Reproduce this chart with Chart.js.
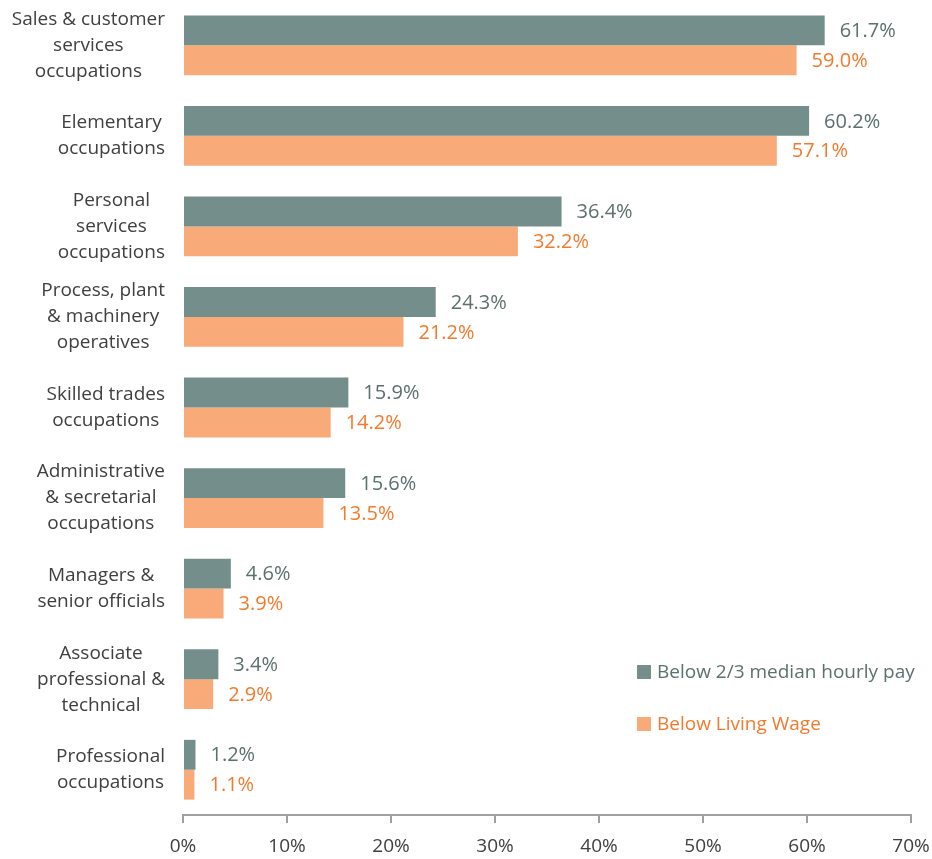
<!DOCTYPE html>
<html>
<head>
<meta charset="utf-8">
<script src="https://cdn.jsdelivr.net/npm/chart.js@4"></script>
<style>
  html, body { margin: 0; padding: 0; background: #fff; }
  #wrap { width: 932px; height: 859px; }
</style>
</head>
<body>
<div id="wrap"><canvas id="chart" width="932" height="859"></canvas></div>
<script>
const categories = [
  ['Sales & customer', 'services', 'occupations'],
  ['Elementary', 'occupations'],
  ['Personal', 'services', 'occupations'],
  ['Process, plant', '& machinery', 'operatives'],
  ['Skilled trades', 'occupations'],
  ['Administrative', '& secretarial', 'occupations'],
  ['Managers &', 'senior officials'],
  ['Associate', 'professional &', 'technical'],
  ['Professional', 'occupations']
];
const belowMedian = [61.7, 60.2, 36.4, 24.3, 15.9, 15.6, 4.6, 3.4, 1.2];
const belowLivingWage = [59.0, 57.1, 32.2, 21.2, 14.2, 13.5, 3.9, 2.9, 1.1];
const seriesNames = ['Below 2/3 median hourly pay', 'Below Living Wage'];
const xTicks = [0, 10, 20, 30, 40, 50, 60, 70];

const FONT = '"Open Sans", sans-serif';
const barColors = ['#748e8c', '#f8ab78'];
const textColors = ['#5c706e', '#f37a2c'];

// value labels at the end of each bar
const valueLabels = {
  id: 'valueLabels',
  afterDatasetsDraw(chart) {
    const ctx = chart.ctx;
    ctx.save();
    ctx.font = '20px ' + FONT;
    ctx.textBaseline = 'middle';
    ctx.textAlign = 'left';
    chart.data.datasets.forEach((ds, i) => {
      const meta = chart.getDatasetMeta(i);
      ctx.fillStyle = textColors[i];
      meta.data.forEach((bar, j) => {
        ctx.fillText(ds.data[j].toFixed(1) + '%', bar.x + 15, bar.y + 1);
      });
    });
    ctx.restore();
  }
};

// category labels: each wrapped block centred on itself, right edge near the axis
const categoryLabels = {
  id: 'categoryLabels',
  afterDraw(chart) {
    const ctx = chart.ctx;
    const yScale = chart.scales.y;
    const lineH = 26;
    ctx.save();
    ctx.font = '19px ' + FONT;
    ctx.fillStyle = '#404040';
    ctx.textAlign = 'center';
    ctx.textBaseline = 'middle';
    categories.forEach((lines, i) => {
      const w = Math.max(...lines.map(l => ctx.measureText(l).width));
      const cx = yScale.right - 18 - w / 2;
      const cy = yScale.getPixelForTick(i);
      lines.forEach((l, k) => {
        ctx.fillText(l, cx, cy + (k - (lines.length - 1) / 2) * lineH);
      });
    });
    ctx.restore();
  }
};

// legend sitting inside the plot, lower right
const innerLegend = {
  id: 'innerLegend',
  afterDraw(chart) {
    const ctx = chart.ctx;
    const x = 637, y0 = 672, gap = 52;
    ctx.save();
    ctx.font = '19px ' + FONT;
    ctx.textBaseline = 'middle';
    seriesNames.forEach((name, i) => {
      const y = y0 + i * gap;
      ctx.fillStyle = barColors[i];
      ctx.fillRect(x, y - 7, 14, 14);
      ctx.fillStyle = textColors[i];
      ctx.fillText(name, x + 20, y + 1);
    });
    ctx.restore();
  }
};

new Chart(document.getElementById('chart'), {
  type: 'bar',
  data: {
    labels: categories,
    datasets: [
      { label: seriesNames[0], data: belowMedian, backgroundColor: barColors[0] },
      { label: seriesNames[1], data: belowLivingWage, backgroundColor: barColors[1] }
    ]
  },
  options: {
    indexAxis: 'y',
    responsive: false,
    animation: false,
    layout: { padding: { top: 0, right: 21, left: 0, bottom: 0 } },
    categoryPercentage: 0.66,
    barPercentage: 1.0,
    plugins: {
      legend: { display: false },
      tooltip: { enabled: false }
    },
    scales: {
      x: {
        min: 0,
        max: 70,
        afterBuildTicks(scale) { scale.ticks = xTicks.map(v => ({ value: v })); },
        afterFit(scale) {
          scale.height = 44;
          scale.paddingLeft = 0;
          scale.paddingRight = 0;
        },
        grid: {
          display: true,
          drawOnChartArea: false,
          drawTicks: true,
          tickLength: 8,
          color: '#a0a0a0',
          lineWidth: 2
        },
        border: { display: true, color: '#a0a0a0', width: 2 },
        ticks: {
          color: '#404040',
          font: { family: FONT, size: 19 },
          padding: 12,
          maxRotation: 0,
          callback: v => v + '%'
        }
      },
      y: {
        afterFit(scale) { scale.width = 183; },
        grid: { display: false },
        border: { display: false },
        ticks: { display: false }
      }
    }
  },
  plugins: [valueLabels, categoryLabels, innerLegend]
});
</script>
</body>
</html>
